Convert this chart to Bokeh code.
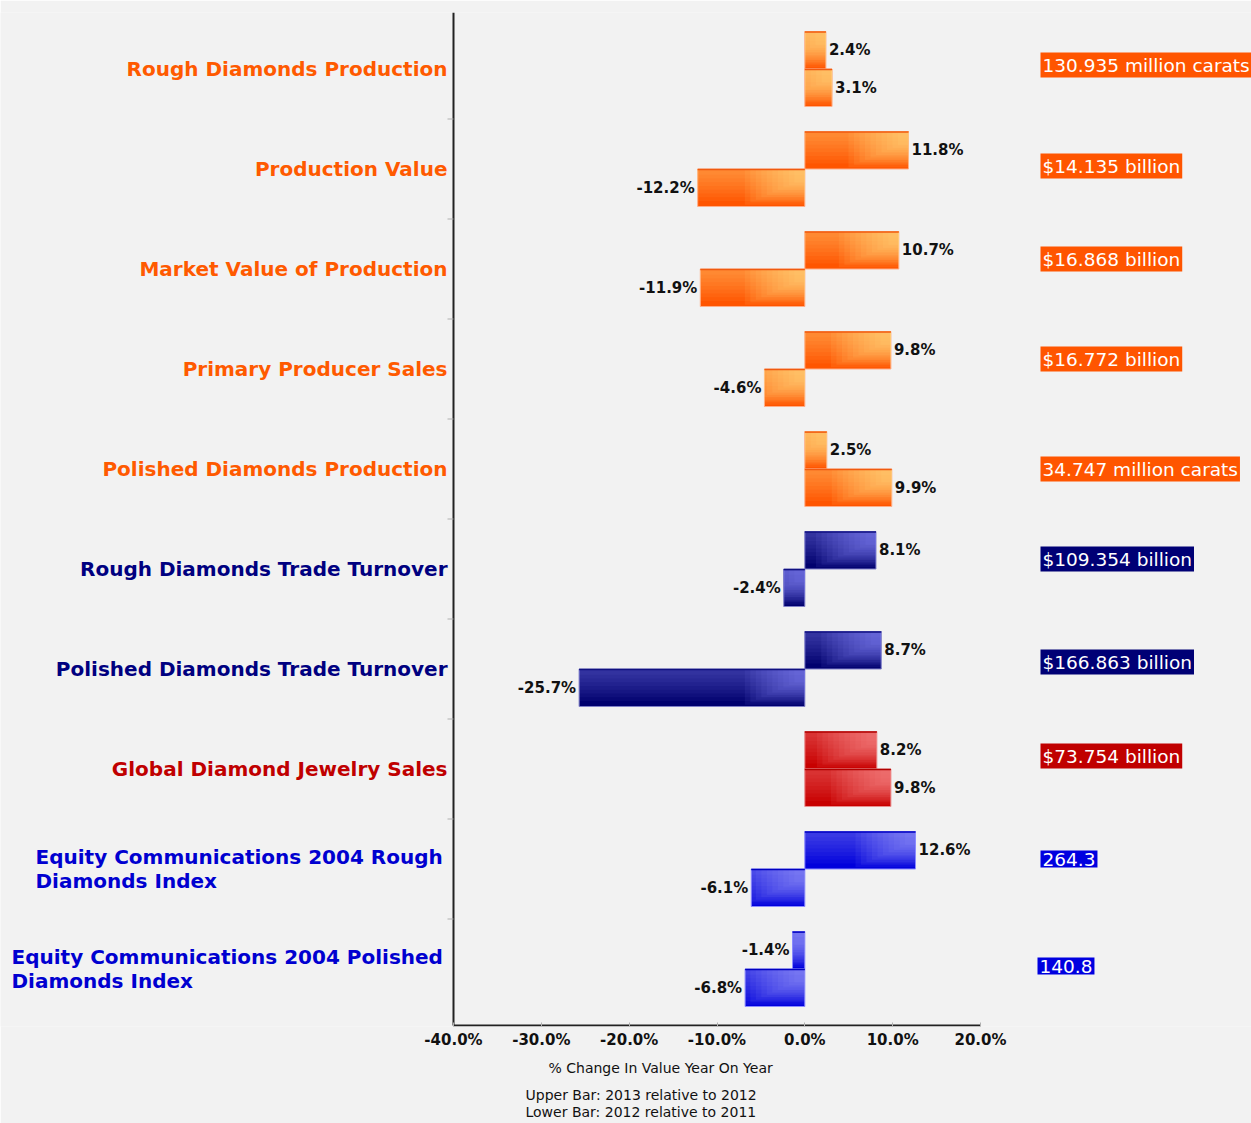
import numpy as np
from bokeh.plotting import figure
from bokeh.models import Range1d, FixedTicker, PrintfTickFormatter, ColumnDataSource, Title
from bokeh.core.properties import value
from bokeh.embed import file_html
from bokeh.resources import INLINE

# ---------------- data ----------------
categories = [
    "Rough Diamonds Production",
    "Production Value",
    "Market Value of Production",
    "Primary Producer Sales",
    "Polished Diamonds Production",
    "Rough Diamonds Trade Turnover",
    "Polished Diamonds Trade Turnover",
    "Global Diamond Jewelry Sales",
    "Equity Communications 2004 Rough\nDiamonds Index",
    "Equity Communications 2004 Polished\nDiamonds Index",
]
upper_2013_vs_2012 = [2.4, 11.8, 10.7, 9.8, 2.5, 8.1, 8.7, 8.2, 12.6, -1.4]
lower_2012_vs_2011 = [3.1, -12.2, -11.9, -4.6, 9.9, -2.4, -25.7, 9.8, -6.1, -6.8]
totals = [
    "130.935 million carats",
    "$14.135 billion",
    "$16.868 billion",
    "$16.772 billion",
    "34.747 million carats",
    "$109.354 billion",
    "$166.863 billion",
    "$73.754 billion",
    "264.3",
    "140.8",
]
groups = ["orange"] * 5 + ["navy"] * 2 + ["red"] + ["blue"] * 2
x_ticks = [-40, -30, -20, -10, 0, 10, 20]
axis_title = "% Change In Value Year On Year"
footnotes = ["Upper Bar: 2013 relative to 2012", "Lower Bar: 2012 relative to 2011"]

# ---------------- styles ----------------
palette = {
    "orange": dict(base="#ff5500", light="#ffe590", edge="#ffae88", top="#f05a10", text="#ff5a00", box="#ff5500"),
    "navy":   dict(base="#00006e", light="#8c8cff", edge="#8080c8", top="#101080", text="#000080", box="#000075"),
    "red":    dict(base="#c80000", light="#ff9a9a", edge="#e89090", top="#b00000", text="#c00000", box="#c00000"),
    "blue":   dict(base="#0000dc", light="#a0a0ff", edge="#8c8cff", top="#0000c0", text="#0000d0", box="#0000e0"),
}
FONT = "DejaVu Sans"
BAR_H = 0.375
right_label_dy_px = [-4, -3, -10, -10, 0, -10, -7, -13, -10, -3]
right_label_dx_px = [0, 0, 0, 0, 0, 0, 0, 0, 0, -3]
multi_left_px = {8: 35, 9: 11}

W, FRAME_TOP, FRAME_BOTTOM = 1251, 12, 1026
X0_PX, X1_PX = 453, 980
PX_PER_X = (X1_PX - X0_PX) / 60.0
PX_PER_Y = 100.0
FIRST_CENTER_PX = 68.5

def dx(px):
    return -40 + (px - X0_PX) / PX_PER_X

def dy(py):
    return 9 - (py - FIRST_CENTER_PX) / PX_PER_Y

p = figure(
    frame_width=W, frame_height=FRAME_BOTTOM - FRAME_TOP,
    x_range=Range1d(dx(0), dx(W)), y_range=Range1d(dy(FRAME_BOTTOM), dy(FRAME_TOP)),
    output_backend="svg", toolbar_location=None,
    min_border_left=0, min_border_right=0, min_border_top=FRAME_TOP, min_border_bottom=97,
    background_fill_color="#f2f2f2", border_fill_color="#f2f2f2",
    outline_line_color=None,
)
p.xgrid.visible = False
p.ygrid.visible = False
p.yaxis.visible = False

# ---------------- bars ----------------
n = len(categories)
centers = np.array([n - 1 - i for i in range(n)], dtype=float)
up = np.array(upper_2013_vs_2012)
lo = np.array(lower_2012_vs_2011)

vals = np.concatenate([up, lo])
y0 = np.concatenate([centers, centers - BAR_H])
y1 = y0 + BAR_H
g = groups + groups
xl = np.minimum(0, vals)
xr = np.maximum(0, vals)
w = xr - xl

def col(key, gg=g):
    return [palette[k][key] for k in gg]

p.quad(source=ColumnDataSource(dict(l=xl, r=xr, t=y1, b=y0, c=col("base"), e=col("edge"))),
       left="l", right="r", top="t", bottom="b", fill_color="c", line_color="e", line_width=1)

# vertical sheen (lighter toward top)
for k in range(8):
    f = 0.85 - k * 0.1
    p.quad(source=ColumnDataSource(dict(l=xl, r=xr, t=y1, b=y1 - f * BAR_H, c=col("light"))),
           left="l", right="r", top="t", bottom="b", fill_color="c", fill_alpha=0.055, line_color=None)

# corner highlight at the right end
for k in range(10):
    wpx = 60 - k * 5.5
    f = 0.95 - k * 0.065
    cw = np.minimum(w, wpx / PX_PER_X)
    p.quad(source=ColumnDataSource(dict(l=xr - cw, r=xr, t=y1, b=y1 - f * BAR_H, c=col("light"))),
           left="l", right="r", top="t", bottom="b", fill_color="c", fill_alpha=0.085, line_color=None)

# top edge line
p.segment(source=ColumnDataSource(dict(x0=xl, x1=xr, y=y1 - 0.006, c=col("top"))),
          x0="x0", x1="x1", y0="y", y1="y", line_color="c", line_width=1.5)

# value labels
p.text(source=ColumnDataSource(dict(
           x=vals, y=y0 + BAR_H / 2,
           t=["%.1f%%" % v for v in vals],
           a=["left" if v >= 0 else "right" for v in vals],
           o=[3 if v >= 0 else -3 for v in vals])),
       x="x", y="y", text="t", text_align="a", x_offset="o", text_baseline="middle",
       text_font=value(FONT), text_font_style="bold", text_font_size="15px", text_color="#111111")

# ---------------- axes ----------------
xa = p.xaxis[0]
xa.ticker = FixedTicker(ticks=x_ticks)
xa.formatter = PrintfTickFormatter(format="%.1f%%")
xa.major_label_text_font = FONT
xa.major_label_text_font_style = "bold"
xa.major_label_text_font_size = "15px"
xa.major_label_text_color = "#111111"
xa.major_label_standoff = 4
xa.axis_line_color = None
xa.major_tick_in = 4
xa.major_tick_out = 0
xa.major_tick_line_color = "#b0b0b0"
xa.minor_tick_line_color = None

y_lo = dy(FRAME_BOTTOM - 1)
y_hi = dy(FRAME_TOP)
# x axis line and y axis line (spanning only the value range)
p.segment(x0=[x_ticks[0], x_ticks[0]], x1=[x_ticks[-1], x_ticks[0]], y0=[y_lo, y_lo], y1=[y_lo, y_hi],
          line_color="#222222", line_width=2)
# category separators on the y axis
sep = [i + 0.5 for i in range(n - 1)]
p.segment(x0=[x_ticks[0] - 6 / PX_PER_X] * len(sep), x1=[x_ticks[0]] * len(sep), y0=sep, y1=sep,
          line_color="#b0b0b0", line_width=1)

# ---------------- category labels ----------------
single = [i for i in range(n) if i not in multi_left_px]
p.text(source=ColumnDataSource(dict(
           x=[x_ticks[0]] * len(single), y=[centers[i] for i in single],
           t=[categories[i] for i in single], c=[palette[groups[i]]["text"] for i in single])),
       x="x", y="y", text="t", text_color="c", text_align="right", text_baseline="middle", x_offset=-6,
       text_font=value(FONT), text_font_style="bold", text_font_size="20px")
multi = list(multi_left_px)
p.text(source=ColumnDataSource(dict(
           x=[dx(multi_left_px[i]) for i in multi], y=[centers[i] for i in multi],
           t=[categories[i] for i in multi], c=[palette[groups[i]]["text"] for i in multi])),
       x="x", y="y", text="t", text_color="c", text_align="left", text_baseline="middle",
       text_font=value(FONT), text_font_style="bold", text_font_size="20px", text_line_height=1.0)

# ---------------- totals boxes ----------------
p.text(source=ColumnDataSource(dict(
           x=[dx(1040 + d) for d in right_label_dx_px],
           y=[centers[i] - right_label_dy_px[i] / PX_PER_Y for i in range(n)],
           t=totals, bc=[palette[k]["box"] for k in groups])),
       x="x", y="y", text="t", text_align="left", text_baseline="middle",
       text_font=value(FONT), text_font_size="18.5px", text_color="white",
       background_fill_color="bc", padding=2)

# ---------------- axis title & footnotes ----------------
p.add_layout(Title(text=axis_title, align="left", offset=548, standoff=12,
                   text_font=FONT, text_font_size="14px", text_font_style="normal", text_color="#111111"), "below")
p.add_layout(Title(text="\n".join(footnotes), align="left", offset=525, standoff=7,
                   text_font=FONT, text_font_size="14px", text_font_style="normal", text_color="#111111",
                   text_line_height=1.05), "below")

open("out.html", "w").write(file_html(p, INLINE))
